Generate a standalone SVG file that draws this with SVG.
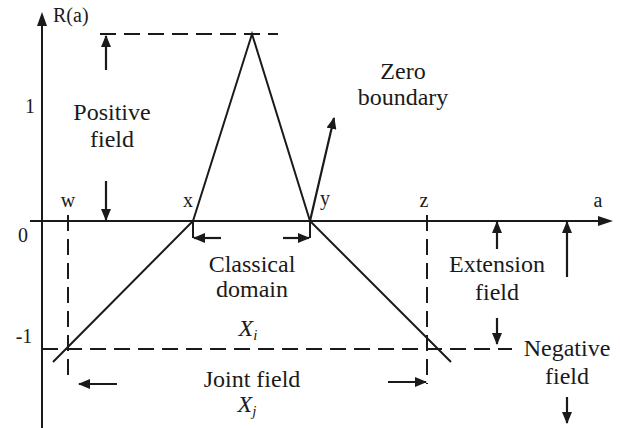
<svg xmlns="http://www.w3.org/2000/svg" width="620" height="428" viewBox="0 0 620 428">
<style>
.ln{stroke:#1a1a1a;stroke-width:2;fill:none}
.ds{stroke:#1a1a1a;stroke-width:2;fill:none;stroke-dasharray:16 8}
.ar{stroke:#1a1a1a;stroke-width:2.2;fill:none;marker-end:url(#ah)}
text{font-family:"Liberation Serif","Times New Roman",serif;fill:#1a1a1a}
.lb{font-size:24px;text-anchor:middle}
.sm{font-size:20px}
</style>
<defs>
<marker id="ah" viewBox="0 0 12 10" refX="11" refY="5" markerWidth="12" markerHeight="10" markerUnits="userSpaceOnUse" orient="auto">
<path d="M0,0 L12,5 L0,10 z" fill="#1a1a1a"/>
</marker>
</defs>
<g id="axes">
<line class="ln" x1="42" y1="428" x2="42" y2="24"/>
<path d="M37,26 L42,12 L47,26 z" fill="#1a1a1a"/>
<line class="ln" x1="30" y1="221" x2="600" y2="221"/>
<path d="M598,216 L613,221 L598,226 z" fill="#1a1a1a"/>
<text class="sm" x="53" y="22">R(a)</text>
<text class="sm" x="598" y="207" text-anchor="middle">a</text>
<text class="sm" x="30" y="113" text-anchor="middle">1</text>
<text class="sm" x="23" y="242" text-anchor="middle">0</text>
<text class="sm" x="24" y="343" text-anchor="middle">-1</text>
</g>
<g id="curve">
<polyline class="ln" points="53,362 193,221 252,34 310,221 451,362"/>
</g>
<g id="guides">
<line class="ds" x1="100" y1="34" x2="278" y2="34"/>
<line class="ds" x1="42" y1="349" x2="512" y2="349"/>
<line class="ds" x1="68" y1="215" x2="68" y2="380"/>
<line class="ds" x1="427" y1="215" x2="427" y2="384"/>
<line class="ln" x1="193" y1="221" x2="193" y2="238"/>
<line class="ln" x1="310" y1="221" x2="310" y2="238"/>
</g>
<g id="labels-points">
<text class="sm" x="68" y="207" text-anchor="middle">w</text>
<text class="sm" x="188" y="207" text-anchor="middle">x</text>
<text class="sm" x="325" y="205" text-anchor="middle">y</text>
<text class="sm" x="424" y="207" text-anchor="middle">z</text>
</g>
<g id="positive-field">
<text class="lb" x="112" y="120">Positive</text>
<text class="lb" x="112" y="147">field</text>
</g>
<g id="zero-boundary">
<text class="lb" x="403" y="79">Zero</text>
<text class="lb" x="403" y="105">boundary</text>
</g>
<g id="classical-domain">
<text class="lb" x="252" y="272">Classical</text>
<text class="lb" x="252" y="297">domain</text>
<text class="lb" x="248" y="336" text-anchor="start" font-style="italic">X<tspan font-size="15" dy="4">i</tspan></text>
</g>
<g id="joint-field">
<text class="lb" x="252" y="387">Joint field</text>
<text class="lb" x="247" y="412" text-anchor="start" font-style="italic">X<tspan font-size="15" dy="4">j</tspan></text>
</g>
<g id="extension-field">
<text class="lb" x="497" y="272">Extension</text>
<text class="lb" x="497" y="300">field</text>
</g>
<g id="negative-field">
<text class="lb" x="567" y="356">Negative</text>
<text class="lb" x="567" y="384">field</text>
</g>
<g id="connectors">
<line class="ar" x1="106" y1="70" x2="106" y2="36"/>
<line class="ar" x1="106" y1="181" x2="106" y2="220"/>
<line class="ar" x1="221" y1="238" x2="194" y2="238"/>
<line class="ar" x1="283" y1="238" x2="309" y2="238"/>
<line class="ar" x1="310" y1="221" x2="334" y2="118"/>
<line class="ar" x1="497" y1="249" x2="497" y2="222"/>
<line class="ar" x1="497" y1="318" x2="497" y2="344"/>
<line class="ar" x1="567" y1="277" x2="567" y2="222"/>
<line class="ar" x1="567" y1="397" x2="567" y2="423"/>
<line class="ar" x1="117" y1="384" x2="79" y2="384"/>
<line class="ar" x1="388" y1="382" x2="426" y2="382"/>
</g>
</svg>
